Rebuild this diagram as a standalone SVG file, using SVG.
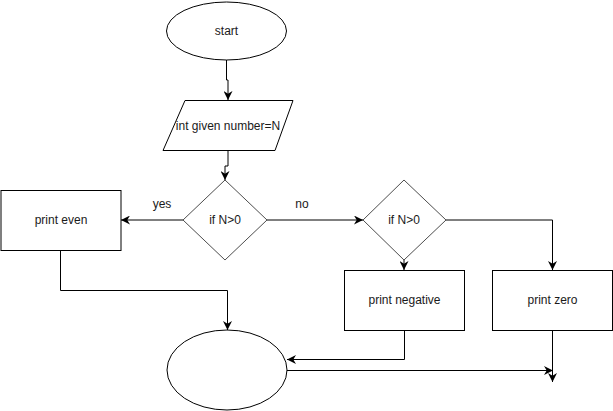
<svg xmlns="http://www.w3.org/2000/svg" width="613" height="411" viewBox="0 0 613 411">
<defs>
<style>
.shape{fill:#fff;stroke:#000;stroke-width:1}
.dia{fill:#fff;stroke:#4d4d4d;stroke-width:1}
.edge{fill:none;stroke:#000;stroke-width:1}
text{font-family:"Liberation Sans",Arial,sans-serif;font-size:12px;fill:#1a1a1a;text-anchor:middle;dominant-baseline:central}
</style>
<marker id="arr" viewBox="0 0 10 10" refX="10" refY="5" markerWidth="9" markerHeight="9" markerUnits="userSpaceOnUse" orient="auto">
<path d="M0,0 L10,5 L0,10 L3,5 Z" fill="#000"/>
</marker>
</defs>
<rect width="613" height="411" fill="#fff"/>
<g id="connectors">
<path class="edge" d="M226.5,60 V80 H228 V100" marker-end="url(#arr)"/>
<path class="edge" d="M228,150 V166 H225 V180" marker-end="url(#arr)"/>
<path class="edge" d="M183,220 H121" marker-end="url(#arr)"/>
<path class="edge" d="M267,220 H363" marker-end="url(#arr)"/>
<path class="edge" d="M404,260 V270" marker-end="url(#arr)"/>
<path class="edge" d="M446,220 H552.5 V270" marker-end="url(#arr)"/>
<path class="edge" d="M60.5,250 V290.5 H227.5 V330" marker-end="url(#arr)"/>
<path class="edge" d="M404.5,330 V359.5 H287" marker-end="url(#arr)"/>
<path class="edge" d="M287,370.5 H553" marker-end="url(#arr)"/>
<path class="edge" d="M552.5,330 V382" marker-end="url(#arr)"/>
<text x="162" y="204">yes</text>
<text x="302" y="204">no</text>
</g>
<g id="start">
<ellipse class="shape" cx="226.5" cy="31" rx="60" ry="29"/>
<text x="226.5" y="31">start</text>
</g>
<g id="input">
<polygon class="shape" points="185,100.5 293,100.5 275,150.5 163,150.5"/>
<text x="228" y="126">int given number=N</text>
</g>
<g id="decision1">
<polygon class="dia" points="225,180 267,220 225,260 183,220"/>
<text x="225" y="220">if N&gt;0</text>
</g>
<g id="print-even">
<rect class="shape" x="1" y="190.5" width="120" height="60"/>
<text x="61" y="220">print even</text>
</g>
<g id="decision2">
<polygon class="dia" points="404,180 446,220 404,260 363,220"/>
<text x="404" y="220">if N&gt;0</text>
</g>
<g id="print-negative">
<rect class="shape" x="344.5" y="270.5" width="120" height="60"/>
<text x="404.5" y="300">print negative</text>
</g>
<g id="print-zero">
<rect class="shape" x="492.5" y="270.5" width="120" height="60"/>
<text x="552.5" y="300">print zero</text>
</g>
<g id="end">
<ellipse class="shape" cx="227" cy="370" rx="60" ry="40"/>
</g>
</svg>
